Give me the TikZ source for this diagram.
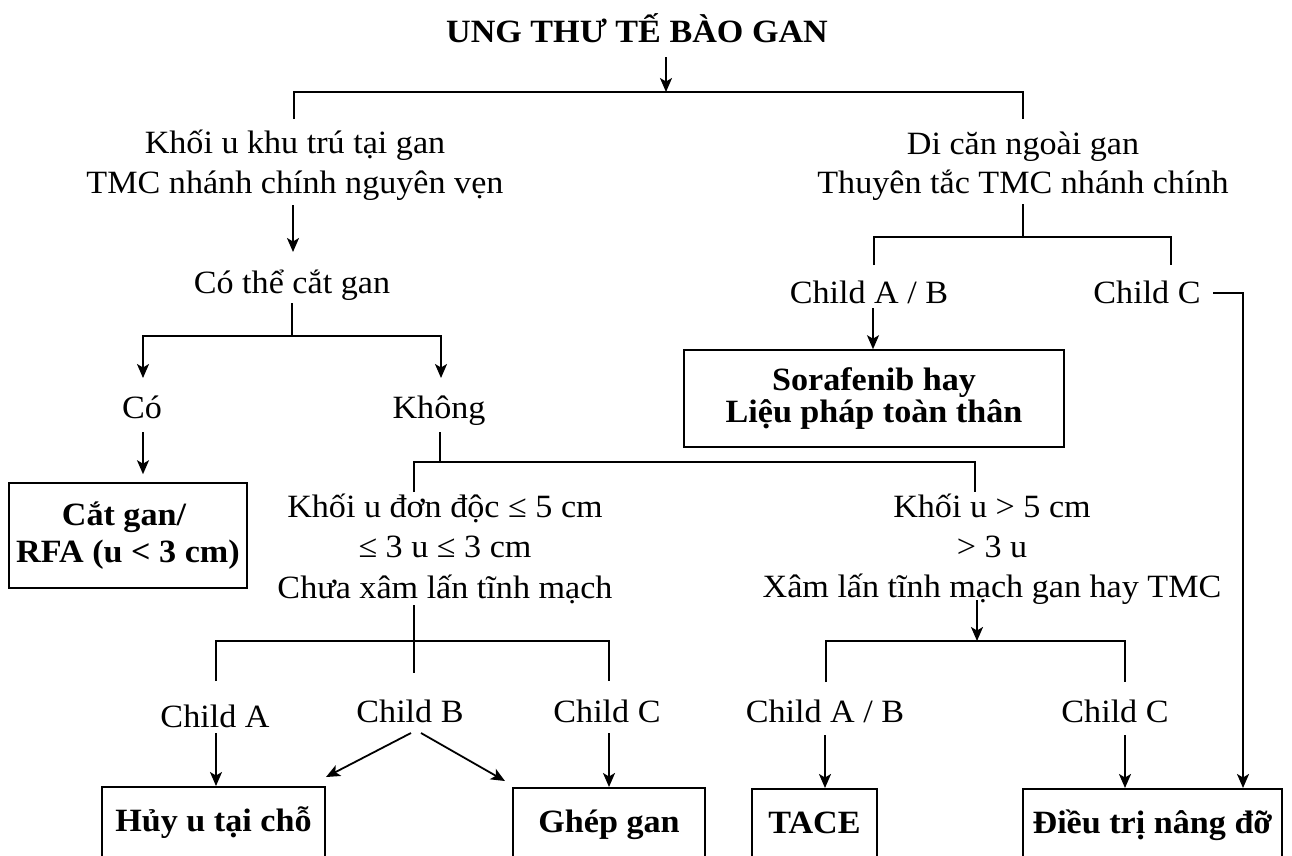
\documentclass[tikz,border=0pt]{standalone}
\usepackage{fontspec}
\setmainfont{Liberation Serif}[FakeStretch=1.05]
\usetikzlibrary{arrows.meta}
\begin{document}
\begin{tikzpicture}[x=1pt,y=-1pt,
  line width=1.8pt,
  lbl/.style={inner sep=0pt, anchor=base, font=\fontsize{32.5}{40}\selectfont},
  bx/.style={draw, line width=1.6pt, inner sep=0pt, align=center, font=\bfseries\fontsize{32.5}{37}\selectfont},
  bbx/.style={draw, line width=1.6pt, anchor=north, inner sep=0pt, text height=45pt, text depth=70pt, font=\bfseries\fontsize{32.5}{37}\selectfont},
  arr/.style={-{Stealth[length=14pt,width=12pt,inset=3.5pt]}}]
\clip (0,0) rectangle (1292,855);
\fill[white] (0,0) rectangle (1292,855);

% texts
\node[lbl, font=\bfseries\fontsize{32.5}{40}\selectfont] (title) at (637,42) {UNG THƯ TẾ BÀO GAN};
\node[lbl] (loc1) at (295,153) {Khối u khu trú tại gan};
\node[lbl] (loc2) at (295,193) {TMC nhánh chính nguyên vẹn};
\node[lbl] (met1) at (1023,154) {Di căn ngoài gan};
\node[lbl] (met2) at (1023,193) {Thuyên tắc TMC nhánh chính};
\node[lbl] (res) at (292,293) {Có thể cắt gan};
\node[lbl] (yes) at (142,418) {Có};
\node[lbl] (no) at (439,418) {Không};
\node[lbl] (mAB) at (869,303) {Child A / B};
\node[lbl] (mC) at (1147,303) {Child C};
\node[lbl] (s1) at (445,517) {Khối u đơn độc ≤ 5 cm};
\node[lbl] (s2) at (445,557) {≤ 3 u ≤ 3 cm};
\node[lbl] (s3) at (445,598) {Chưa xâm lấn tĩnh mạch};
\node[lbl] (g1) at (992,517) {Khối u > 5 cm};
\node[lbl] (g2) at (992,557) {> 3 u};
\node[lbl] (g3) at (992,597) {Xâm lấn tĩnh mạch gan hay TMC};
\node[lbl] (cA) at (215,727) {Child A};
\node[lbl] (cB) at (410,722) {Child B};
\node[lbl] (cC) at (607,722) {Child C};
\node[lbl] (dAB) at (825,722) {Child A / B};
\node[lbl] (dC) at (1115,722) {Child C};

% boxes
\node[bx, minimum width=238, minimum height=105] (cut) at (128,535.5) {Cắt gan/\hspace*{8pt}\\RFA (u < 3 cm)};
\node[bx, minimum width=380, minimum height=97, font=\bfseries\fontsize{32.5}{32}\selectfont] (sor) at (874,398.5) {Sorafenib hay\\Liệu pháp toàn thân};
\node[bbx, minimum width=223] (huy) at (213.5,786) {Hủy u tại chỗ};
\node[bbx, minimum width=192] (ghep) at (609,787) {Ghép gan};
\node[bbx, minimum width=125] (tace) at (814.5,788) {TACE};
\node[bbx, minimum width=259] (dt) at (1152.5,788) {Điều trị nâng đỡ};

% coordinates
\coordinate (t0) at (666,57);
\coordinate (j0) at (666,92);
\coordinate (lt) at (294,119);
\coordinate (rt) at (1023,119);
\coordinate (a0) at (293,205);
\coordinate (a1) at (293,252);
\coordinate (r0) at (292,303);
\coordinate (r1) at (292,336);
\coordinate (yesIn) at (143,378);
\coordinate (noIn) at (441,378);
\coordinate (yesOut) at (143,432);
\coordinate (k0) at (440,432);
\coordinate (k1) at (440,462);
\coordinate (kL) at (414,492);
\coordinate (kR) at (975,492);
\coordinate (s0) at (414,605);
\coordinate (sj) at (414,641);
\coordinate (sM) at (414,673);
\coordinate (sL) at (216,681);
\coordinate (sR) at (609,681);
\coordinate (cAo) at (216,733);
\coordinate (cBl) at (411,733);
\coordinate (cBlt) at (326,777);
\coordinate (cBr) at (421,733);
\coordinate (cBrt) at (505,781);
\coordinate (cCo) at (609,733);
\coordinate (g0) at (977,600);
\coordinate (gj) at (977,641);
\coordinate (gL) at (826,682);
\coordinate (gR) at (1125,682);
\coordinate (dABo) at (825,735);
\coordinate (dCo) at (1125,735);
\coordinate (m0) at (1023,204);
\coordinate (mj) at (1023,237);
\coordinate (mL) at (874,265);
\coordinate (mR) at (1171,265);
\coordinate (mABo) at (873,308);
\coordinate (mCo) at (1213,293);
\coordinate (mCc) at (1243,293);

% connectors
\draw[arr] (t0) -- (j0);
\draw (lt) -- (lt |- j0) -- (rt |- j0) -- (rt);
\draw[arr] (a0) -- (a1);
\draw (r0) -- (r1);
\draw[arr] (r1) -| (yesIn);
\draw[arr] (r1) -| (noIn);
\draw[arr, shorten >=8pt] (yesOut) -- (yesOut |- cut.north);
\draw (k0) -- (k1);
\draw (kL) |- (k1) -| (kR);
\draw (s0) -- (sM);
\draw (sL) |- (sj) -| (sR);
\draw[arr] (cAo) -- (cAo |- huy.north);
\draw[arr] (cBl) -- (cBlt);
\draw[arr] (cBr) -- (cBrt);
\draw[arr] (cCo) -- (cCo |- ghep.north);
\draw[arr] (g0) -- (gj);
\draw (gL) |- (gj) -| (gR);
\draw[arr] (dABo) -- (dABo |- tace.north);
\draw[arr] (dCo) -- (dCo |- dt.north);
\draw (m0) -- (mj);
\draw (mL) |- (mj) -| (mR);
\draw[arr] (mABo) -- (mABo |- sor.north);
\draw[arr] (mCo) -- (mCc) -- (mCc |- dt.north);
\end{tikzpicture}
\end{document}
